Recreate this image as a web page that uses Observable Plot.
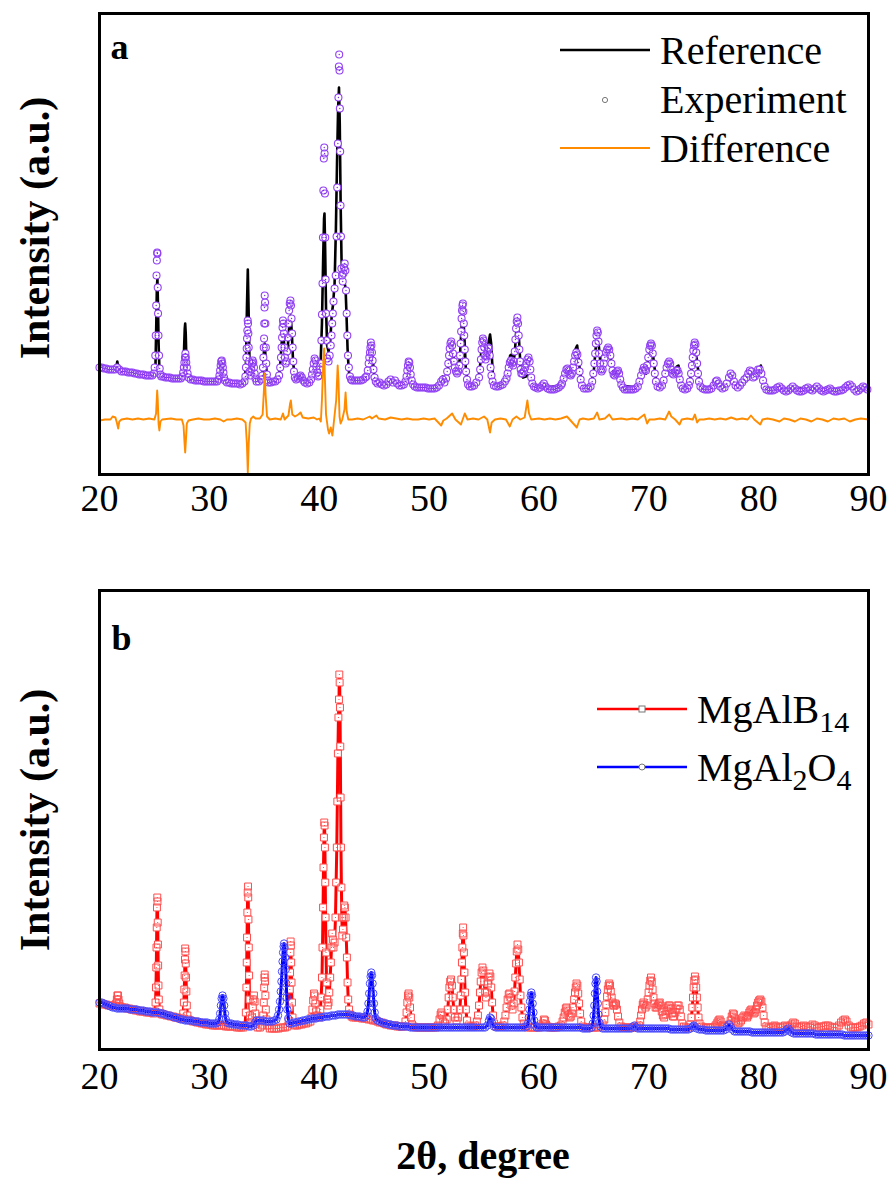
<!DOCTYPE html>
<html><head><meta charset="utf-8">
<script src="https://cdn.jsdelivr.net/npm/d3@7"></script>
<script src="https://cdn.jsdelivr.net/npm/@observablehq/plot@0.6"></script>
<style>
body{margin:0;background:#fff;}
#wrap{position:relative;width:894px;height:1180px;font-family:"Liberation Serif","Times New Roman",serif;overflow:hidden;}
#wrap > svg{display:block;}
#overlay{position:absolute;left:0;top:0;pointer-events:none;}
</style></head><body><div id="wrap"></div>
<script>
// ---------- data (2θ in degrees, intensity in arbitrary units) ----------
const xTicks = [20,30,40,50,60,70,80,90];
const seriesA = ["Reference","Experiment","Difference"];
const seriesB = ["MgAlB14","MgAl2O4"];
const DIFF_OFFSET = 54; // vertical offset of the difference trace (a.u.)

// panel a: calculated (reference) profile
const referenceXY = [20.0,106, 20.5,105, 21.0,104, 21.45,104, 21.55,107, 21.62,112, 21.7,107, 21.8,103, 22.5,101, 23.5,100, 24.5,98, 25.0,97, 25.1,110, 25.17,150, 25.22,185, 25.27,195, 25.32,170, 25.38,130, 25.45,105, 25.55,97, 26.5,95, 27.5,95, 27.62,100, 27.7,125, 27.76,145, 27.8,150, 27.85,140, 27.9,118, 27.98,100, 28.1,95, 29.0,93, 30.0,92, 30.85,93, 30.98,103, 31.1,112, 31.22,107, 31.35,95, 31.5,91, 32.5,90, 33.2,91, 33.33,110, 33.42,165, 33.5,204, 33.57,165, 33.65,115, 33.75,99, 33.85,106, 33.95,112, 34.05,108, 34.2,94, 34.7,91, 34.88,104, 34.97,122, 35.04,130, 35.12,115, 35.25,95, 35.5,91, 36.2,91, 36.42,104, 36.58,130, 36.7,143, 36.8,130, 36.92,110, 37.0,108, 37.15,128, 37.3,152, 37.4,158, 37.5,142, 37.62,112, 37.78,95, 38.1,93, 38.3,95, 38.6,91, 39.2,91, 39.4,101, 39.58,113, 39.75,104, 39.95,97, 40.12,108, 40.25,150, 40.36,215, 40.44,255, 40.48,260, 40.54,225, 40.62,165, 40.72,128, 40.85,122, 41.0,132, 41.15,160, 41.25,168, 41.4,190, 41.52,245, 41.62,310, 41.72,365, 41.8,386, 41.87,350, 41.95,270, 42.03,215, 42.12,195, 42.22,192, 42.32,190, 42.4,185, 42.48,160, 42.58,125, 42.68,104, 42.8,95, 43.0,93, 44.0,93, 44.3,98, 44.5,115, 44.68,130, 44.85,117, 45.0,99, 45.2,91, 46.0,89, 46.5,92, 47.0,90, 47.6,88, 47.9,93, 48.14,111, 48.4,94, 48.8,87, 50.0,85, 50.9,87, 51.1,91, 51.22,97, 51.35,91, 51.55,94, 51.75,108, 51.95,124, 52.05,127, 52.2,118, 52.45,102, 52.6,100, 52.8,115, 52.95,145, 53.08,162, 53.2,140, 53.35,104, 53.55,89, 54.3,89, 54.6,102, 54.78,126, 54.9,132, 55.05,122, 55.2,116, 55.4,130, 55.55,139, 55.65,130, 55.8,100, 56.0,88, 56.9,90, 57.15,99, 57.38,118, 57.5,119, 57.65,110, 57.8,120, 57.95,145, 58.06,154, 58.18,135, 58.35,102, 58.55,96, 58.8,97, 59.0,98, 59.2,96, 59.45,87, 60.3,86, 60.45,89, 60.6,86, 62.1,88, 62.4,98, 62.6,101, 62.85,99, 63.1,104, 63.35,125, 63.48,128, 63.65,110, 63.9,88, 64.7,86, 65.0,103, 65.2,130, 65.32,138, 65.45,128, 65.65,104, 65.85,106, 66.15,118, 66.35,121, 66.55,114, 66.8,99, 67.2,101, 67.5,88, 68.9,86, 69.3,96, 69.55,102, 69.75,100, 70.0,118, 70.2,127, 70.4,117, 70.7,90, 71.1,87, 71.5,97, 71.8,104, 72.0,103, 72.25,100, 72.55,107, 72.7,108, 72.9,92, 73.2,85, 73.7,88, 73.95,110, 74.17,127, 74.4,112, 74.65,88, 75.5,84, 76.0,88, 76.2,92, 76.45,87, 77.0,88, 77.45,100, 77.85,89, 78.3,88, 78.75,95, 79.1,101, 79.3,100, 79.55,96, 79.9,100, 80.2,108, 80.45,92, 80.8,84, 81.9,87, 82.5,83, 83.1,86, 84.5,85, 85.3,86, 86.5,84, 87.5,83, 88.3,88, 89.0,83, 89.5,86, 90.0,84];

// panel a: measured (experiment) points
const experimentXY = [20.0,106, 20.2,106, 20.4,105, 20.6,105, 20.8,104, 21.0,104, 21.2,104, 21.4,104, 21.6,106, 21.8,104, 22.0,102, 22.2,102, 22.4,102, 22.6,101, 22.8,101, 23.0,101, 23.2,100, 23.4,100, 23.6,99, 23.8,99, 24.0,99, 24.2,98, 24.4,98, 24.6,98, 24.8,98,
24.95,100, 25.02,106, 25.08,118, 25.12,138, 25.16,168, 25.19,198, 25.22,213, 25.25,221, 25.27,220, 25.3,186, 25.33,160, 25.37,138, 25.42,118, 25.48,105, 25.55,99, 25.62,97,
25.8,97, 26.0,96, 26.2,96, 26.4,96, 26.6,95, 26.8,95, 27.0,95, 27.2,95, 27.4,95,
27.55,97, 27.62,101, 27.68,106, 27.73,111, 27.78,116, 27.82,120, 27.86,116, 27.9,111, 27.95,106, 28.02,100, 28.1,96,
28.3,94, 28.5,94, 28.7,93, 28.9,93, 29.1,93, 29.3,93, 29.5,92, 29.7,92, 29.9,92, 30.1,92, 30.3,92, 30.5,92, 30.7,92,
30.85,94, 30.92,98, 30.98,103, 31.03,108, 31.08,112, 31.13,113, 31.18,110, 31.23,106, 31.28,101, 31.34,96, 31.42,93,
31.6,91, 31.8,91, 32.0,90, 32.2,90, 32.4,90, 32.6,90, 32.8,89, 33.0,90, 33.2,92,
33.28,97, 33.33,106, 33.37,116, 33.4,125, 33.43,135, 33.46,143, 33.49,153, 33.52,150, 33.55,140, 33.58,126, 33.62,112, 33.67,102,
33.75,98, 33.82,104, 33.88,110, 33.94,113, 34.0,111, 34.06,106, 34.12,100, 34.2,95, 34.3,92, 34.5,92, 34.7,94,
34.82,98, 34.88,106, 34.92,116, 34.95,126, 34.98,135, 35.0,150, 35.02,166, 35.04,178, 35.07,171, 35.1,150, 35.14,126, 35.18,110, 35.24,99, 35.32,93,
35.4,91, 35.6,91, 35.8,92, 36.0,92, 36.2,94,
36.35,98, 36.45,106, 36.52,116, 36.58,126, 36.62,136, 36.66,146, 36.7,153, 36.74,150, 36.78,140, 36.83,126, 36.88,116, 36.95,110, 37.02,112, 37.08,122, 37.14,136, 37.2,150, 37.26,163, 37.32,170, 37.38,173, 37.43,168, 37.48,155, 37.53,140, 37.58,126, 37.64,112, 37.7,102, 37.78,96,
37.9,94, 38.05,95, 38.2,97, 38.3,98, 38.42,96, 38.55,93, 38.7,91, 38.9,90, 39.1,91,
39.25,94, 39.35,99, 39.42,104, 39.5,110, 39.58,115, 39.66,113, 39.74,107, 39.82,101, 39.9,97, 40.0,98,
40.08,104, 40.15,110, 40.2,133, 40.25,159, 40.3,190, 40.34,236, 40.38,283, 40.42,315, 40.46,326, 40.49,320, 40.52,280, 40.55,236, 40.58,194, 40.62,160, 40.67,133, 40.72,115,
40.85,112, 40.95,118, 41.05,128, 41.12,138, 41.18,150, 41.24,160, 41.3,172,
41.4,185, 41.5,198, 41.58,237, 41.64,286, 41.7,330, 41.75,376, 41.79,407, 41.82,419, 41.85,403, 41.88,365, 41.91,322, 41.94,268, 41.98,237, 42.02,205, 42.08,198,
42.14,192, 42.2,200, 42.26,206, 42.32,210, 42.38,203, 42.44,183, 42.5,160, 42.56,138, 42.62,118, 42.7,106, 42.8,97, 42.9,94,
43.0,93, 43.2,93, 43.4,93, 43.6,93, 43.8,93, 44.0,94, 44.2,96,
44.3,97, 44.42,103, 44.5,110, 44.56,116, 44.62,121, 44.66,126, 44.7,131, 44.75,128, 44.8,121, 44.86,113, 44.94,104, 45.04,96, 45.15,92,
45.3,90, 45.5,91, 45.7,89, 45.9,88, 46.1,89, 46.3,92, 46.5,94, 46.7,91, 46.9,93, 47.1,90, 47.3,88, 47.5,88, 47.7,89,
47.85,92, 47.95,97, 48.02,103, 48.08,108, 48.14,112, 48.2,111, 48.26,106, 48.33,99, 48.42,93, 48.55,89,
48.7,87, 48.9,86, 49.1,86, 49.3,86, 49.5,86, 49.7,86, 49.9,85, 50.1,85, 50.3,85, 50.5,85, 50.7,86, 50.9,88, 51.1,92, 51.25,94, 51.4,91,
51.55,95, 51.65,102, 51.75,110, 51.82,118, 51.88,125, 51.95,130, 52.02,132, 52.1,128, 52.18,120, 52.26,112, 52.35,106, 52.45,102, 52.55,100, 52.65,102, 52.75,108, 52.82,118, 52.87,130, 52.92,142, 52.96,155, 53.0,163, 53.04,168, 53.08,170, 53.12,162, 53.16,150, 53.2,138, 53.25,124, 53.3,112, 53.37,102, 53.45,94, 53.55,89,
53.7,87, 53.9,87, 54.1,88, 54.3,91,
54.55,96, 54.65,104, 54.72,114, 54.78,124, 54.84,131, 54.9,135, 54.96,133, 55.02,126, 55.08,118, 55.14,114, 55.22,117, 55.3,122, 55.38,126, 55.45,125, 55.52,118, 55.6,106, 55.68,98, 55.78,92, 55.9,88,
56.1,87, 56.3,87, 56.5,88, 56.7,89, 56.9,92,
57.05,95, 57.15,100, 57.25,106, 57.35,111, 57.45,113, 57.55,110, 57.65,108, 57.72,112, 57.8,122, 57.86,134, 57.92,145, 57.98,152, 58.04,156, 58.1,150, 58.16,138, 58.22,124, 58.28,112, 58.34,104, 58.4,100,
58.5,100, 58.62,102, 58.75,106, 58.85,110, 58.95,114, 59.05,116, 59.15,112, 59.22,104, 59.3,96, 59.4,90, 59.55,87,
59.7,86, 59.9,85, 60.1,86, 60.3,88, 60.45,90, 60.6,87, 60.8,85, 61.0,84, 61.2,84, 61.4,84, 61.6,85, 61.8,86, 62.0,88,
62.1,90, 62.25,95, 62.38,100, 62.5,104, 62.6,105, 62.7,103, 62.8,99, 62.9,98, 63.0,100, 63.1,106, 63.2,112, 63.3,118, 63.4,121, 63.5,119, 63.6,111, 63.7,102, 63.8,94, 63.92,88,
64.1,85, 64.3,85, 64.5,85, 64.7,87,
64.85,92, 64.95,100, 65.05,110, 65.12,120, 65.18,130, 65.24,138, 65.3,143, 65.36,141, 65.42,132, 65.48,120, 65.55,110, 65.62,104, 65.7,102, 65.8,104, 65.9,110, 66.0,116, 66.1,121, 66.2,124, 66.3,126, 66.4,124, 66.5,118, 66.6,110, 66.7,103, 66.8,99, 66.9,98, 67.0,100, 67.1,102, 67.2,103, 67.3,100, 67.4,94, 67.5,89, 67.65,86,
67.8,84, 68.0,84, 68.2,84, 68.4,84, 68.6,84, 68.8,85, 69.0,87, 69.15,92,
69.3,98, 69.45,103, 69.55,106, 69.65,104, 69.75,103, 69.85,108, 69.95,116, 70.05,124, 70.12,128, 70.2,130, 70.28,128, 70.36,120, 70.45,110, 70.55,100, 70.65,92, 70.8,87,
71.0,86, 71.2,88, 71.35,93, 71.5,100, 71.62,106, 71.74,110, 71.85,112, 71.95,110, 72.05,104, 72.15,100, 72.25,99, 72.38,101, 72.5,103, 72.62,103, 72.72,100, 72.82,94, 72.95,88, 73.1,85,
73.3,84, 73.5,85, 73.65,88,
73.75,92, 73.85,100, 73.93,108, 74.0,116, 74.06,123, 74.12,128, 74.18,131, 74.25,129, 74.32,121, 74.4,110, 74.48,100, 74.57,92, 74.7,87,
74.9,85, 75.1,84, 75.3,84, 75.5,84, 75.7,85, 75.9,88, 76.1,92, 76.2,93, 76.35,90, 76.5,87, 76.7,85, 76.9,86, 77.1,90, 77.3,96, 77.45,100, 77.6,98, 77.75,92, 77.9,88, 78.1,86, 78.3,88, 78.5,91, 78.7,94, 78.9,96, 79.05,100, 79.2,103, 79.35,102, 79.5,96, 79.65,97, 79.8,100, 79.95,104, 80.1,104, 80.25,100, 80.4,93, 80.55,87, 80.7,84, 80.9,83, 81.1,83, 81.3,83, 81.5,84, 81.7,86, 81.9,87, 82.1,85, 82.3,83, 82.5,82, 82.7,83, 82.9,85, 83.1,87, 83.3,85, 83.5,83, 83.7,82, 83.9,82, 84.1,83, 84.3,85, 84.5,86, 84.7,84, 84.9,83, 85.1,85, 85.3,87, 85.5,85, 85.7,83, 85.9,82, 86.1,83, 86.3,84, 86.5,85, 86.7,83, 86.9,82, 87.1,82, 87.3,83, 87.5,83, 87.7,84, 87.9,86, 88.1,88, 88.3,89, 88.5,87, 88.7,84, 88.9,82, 89.1,83, 89.3,85, 89.5,87, 89.7,86, 89.9,84];

// panel a: difference (experiment - reference), around zero
const differenceXY = [20.0,-1, 20.5,0, 21.0,0, 21.2,3, 21.45,2, 21.6,-4, 21.7,-9, 21.8,-2, 22.0,0, 22.5,1, 23.0,0, 23.5,1, 24.0,0, 24.5,1, 25.0,0, 25.15,6, 25.25,29, 25.3,20, 25.38,-5, 25.45,-11, 25.55,-2, 25.7,0, 26.5,1, 27.0,0, 27.5,0, 27.65,-6, 27.75,-25, 27.8,-33, 27.87,-20, 27.95,-4, 28.1,-1, 28.5,0, 29.0,1, 29.5,0, 30.0,0, 30.5,1, 31.0,0, 31.3,-2, 31.6,0, 32.0,0, 32.5,1, 33.0,0, 33.3,-3, 33.42,-25, 33.5,-53, 33.58,-25, 33.68,-4, 33.8,1, 34.0,3, 34.2,1, 34.6,1, 34.85,5, 34.97,30, 35.04,46, 35.12,25, 35.25,3, 35.5,0, 36.0,1, 36.5,0, 36.7,6, 36.85,0, 37.2,4, 37.35,16, 37.42,19, 37.55,5, 37.8,3, 38.1,5, 38.3,7, 38.5,2, 39.0,1, 39.5,2, 39.8,0, 40.0,1, 40.15,-2, 40.25,20, 40.38,60, 40.45,71, 40.52,40, 40.62,5, 40.8,-10, 40.9,-14, 41.05,-8, 41.2,-16, 41.3,-6, 41.55,20, 41.68,54, 41.75,40, 41.85,3, 41.95,-4, 42.1,0, 42.3,10, 42.4,27, 42.5,8, 42.65,0, 43.0,0, 43.5,1, 44.0,0, 44.6,3, 44.8,1, 45.2,4, 45.4,1, 46.0,0, 46.5,2, 47.0,1, 47.5,0, 48.0,1, 48.5,0, 49.0,0, 49.5,1, 50.0,0, 50.5,1, 51.1,-6, 51.3,-1, 51.6,1, 52.1,6, 52.4,0, 52.9,-5, 53.25,6, 53.5,0, 54.0,1, 54.5,0, 55.0,3, 55.3,0, 55.55,-13, 55.7,-3, 56.0,0, 56.5,1, 57.0,0, 57.35,-7, 57.6,0, 57.95,3, 58.3,0, 58.7,2, 58.95,19, 59.1,6, 59.3,0, 60.0,1, 60.5,0, 61.0,1, 61.5,0, 62.0,1, 62.55,3, 62.8,0, 63.45,-8, 63.7,0, 64.0,1, 64.5,0, 65.0,1, 65.3,7, 65.5,0, 66.0,1, 66.4,5, 66.7,0, 67.5,1, 68.0,0, 68.5,1, 69.0,0, 69.6,5, 69.85,-4, 70.05,0, 70.5,0, 71.0,1, 71.5,0, 71.85,8, 72.05,3, 72.4,0, 72.8,-5, 73.0,0, 73.5,1, 74.0,0, 74.2,5, 74.4,-3, 74.6,0, 75.0,0, 75.5,1, 76.0,0, 76.5,1, 77.0,0, 77.5,2, 78.0,0, 78.5,1, 79.0,0, 79.3,4, 79.6,0, 80.15,-5, 80.35,0, 80.8,1, 81.3,0, 81.9,-2, 82.3,1, 82.8,0, 83.3,-2, 83.8,1, 84.3,0, 84.8,-2, 85.3,1, 85.8,0, 86.3,-2, 86.8,1, 87.3,0, 87.8,1, 88.3,-2, 88.8,0, 89.3,1, 90.0,0];

// panel b: MgAlB14 phase
const mgalb14XY = [20.0,44, 20.2,44, 20.4,43, 20.6,43, 20.8,42, 21.0,42, 21.2,42, 21.4,42, 21.52,44, 21.58,48, 21.63,52, 21.68,52, 21.73,48, 21.8,44, 21.9,41, 22.1,40, 22.3,40, 22.5,39, 22.7,39, 22.9,38, 23.1,38, 23.3,37, 23.5,37, 23.7,36, 23.9,36, 24.1,36, 24.3,35, 24.5,35, 24.7,35, 24.9,34,
25.05,36, 25.1,45, 25.14,60, 25.17,80, 25.19,100, 25.21,120, 25.23,140, 25.26,150, 25.28,146, 25.3,125, 25.32,103, 25.34,82, 25.37,62, 25.4,48, 25.45,38, 25.55,34,
25.7,33, 25.9,33, 26.1,32, 26.3,32, 26.5,31, 26.7,31, 26.9,30, 27.1,30, 27.3,29, 27.5,29,
27.62,34, 27.68,45, 27.72,58, 27.75,72, 27.78,88, 27.8,99, 27.82,96, 27.85,84, 27.88,70, 27.91,56, 27.95,42, 28.0,32, 28.1,28,
28.3,27, 28.5,26, 28.7,26, 28.9,25, 29.1,25, 29.3,24, 29.5,24, 29.7,23, 29.9,23, 30.1,23, 30.3,22, 30.5,22, 30.7,22, 30.9,22, 31.1,22, 31.3,22, 31.5,21, 31.7,21, 31.9,21, 32.1,21, 32.3,21, 32.5,20, 32.7,20, 32.9,20, 33.1,20, 33.25,22,
33.32,35, 33.37,60, 33.4,85, 33.43,110, 33.46,135, 33.49,155, 33.52,161, 33.54,150, 33.56,128, 33.59,100, 33.62,72, 33.66,48, 33.7,32, 33.76,25,
33.88,30, 33.95,40, 34.0,48, 34.06,52, 34.12,46, 34.18,34, 34.26,24, 34.4,20, 34.6,20, 34.8,22,
34.9,32, 34.95,45, 34.99,60, 35.02,70, 35.04,73, 35.07,66, 35.1,52, 35.14,38, 35.2,28, 35.3,22, 35.5,19, 35.7,19, 35.9,19, 36.1,19, 36.3,19, 36.5,20, 36.7,20, 36.9,20, 37.1,21, 37.22,26,
37.28,40, 37.32,58, 37.35,75, 37.38,95, 37.4,106, 37.42,102, 37.45,85, 37.48,65, 37.52,45, 37.57,30, 37.65,23, 37.8,22, 38.0,22, 38.2,23, 38.4,23, 38.6,24, 38.8,24, 39.0,25, 39.2,26,
39.3,30, 39.38,38, 39.45,47, 39.52,54, 39.58,52, 39.65,44, 39.72,36, 39.8,32, 39.9,31, 40.0,30,
40.1,38, 40.18,50, 40.25,70, 40.3,100, 40.35,140, 40.39,180, 40.43,210, 40.46,225, 40.49,222, 40.52,200, 40.55,165, 40.58,130, 40.62,95, 40.67,65, 40.72,48, 40.78,42,
40.85,45, 40.92,55, 41.0,70, 41.06,85, 41.12,100, 41.18,114, 41.24,108, 41.3,100,
41.4,105, 41.48,130, 41.54,165, 41.6,200, 41.65,246, 41.7,294, 41.75,330, 41.8,348, 41.83,373, 41.86,365, 41.89,340, 41.92,301, 41.95,250, 41.98,200, 42.02,160, 42.06,130, 42.1,112, 42.16,118, 42.22,130, 42.28,142, 42.34,140, 42.4,130, 42.46,110, 42.52,90, 42.58,65, 42.64,48, 42.72,38, 42.82,33, 42.95,31,
43.1,30, 43.3,30, 43.5,30, 43.7,30, 43.9,29, 44.1,29, 44.3,29, 44.5,28, 44.7,28, 44.9,27, 45.1,27, 45.3,26, 45.5,25, 45.7,25, 45.9,24, 46.1,23, 46.3,23, 46.5,22, 46.7,22, 46.9,22, 47.1,21, 47.3,21, 47.5,21, 47.7,21, 47.85,26,
47.95,35, 48.02,45, 48.08,52, 48.14,54, 48.2,50, 48.27,40, 48.35,30, 48.45,23, 48.6,21, 48.8,20, 49.0,20, 49.2,20, 49.4,20, 49.6,20, 49.8,20, 50.0,20, 50.2,20, 50.4,20, 50.6,20, 50.8,22,
50.95,28, 51.05,33, 51.12,35, 51.2,32, 51.3,26, 51.45,24,
51.6,28, 51.7,38, 51.78,50, 51.85,60, 51.92,66, 52.0,68, 52.08,62, 52.16,50, 52.25,38, 52.35,30, 52.5,27, 52.65,30,
52.8,38, 52.88,52, 52.94,68, 52.99,85, 53.03,100, 53.07,114, 53.1,120, 53.13,112, 53.17,95, 53.22,75, 53.28,55, 53.35,38, 53.45,27, 53.6,22, 53.8,21, 54.0,21, 54.2,22, 54.35,26,
54.45,32, 54.55,42, 54.63,55, 54.7,66, 54.78,75, 54.86,80, 54.94,77, 55.02,66, 55.1,55, 55.18,50, 55.26,55, 55.34,64, 55.42,70, 55.5,74, 55.58,71, 55.66,60, 55.74,45, 55.82,32, 55.92,24, 56.1,21, 56.3,21, 56.5,21, 56.7,22, 56.85,26,
56.95,32, 57.05,40, 57.15,48, 57.25,53, 57.32,54, 57.4,50, 57.5,42, 57.6,38, 57.7,44, 57.78,56, 57.85,70, 57.92,84, 57.98,96, 58.05,103, 58.12,98, 58.18,85, 58.25,68, 58.32,52, 58.4,40, 58.5,30, 58.62,24, 58.8,21, 59.0,20, 59.2,20, 59.4,20, 59.6,20, 59.8,20, 60.0,20, 60.2,21, 60.35,24, 60.45,28, 60.55,27, 60.65,23, 60.8,21, 61.0,20, 61.2,20, 61.4,20, 61.6,20, 61.8,21, 62.0,22, 62.15,26,
62.25,30, 62.35,35, 62.45,39, 62.52,40, 62.6,37, 62.7,32, 62.8,30, 62.9,31, 63.0,34, 63.1,40, 63.2,48, 63.28,55, 63.35,60, 63.42,64, 63.5,62, 63.58,54, 63.66,44, 63.75,34, 63.85,26, 64.0,21, 64.2,20, 64.4,20, 64.6,20, 64.8,20, 65.0,20, 65.2,20, 65.4,20, 65.6,21, 65.8,23, 65.95,28,
66.05,35, 66.13,43, 66.2,51, 66.27,58, 66.34,62, 66.4,64, 66.47,62, 66.54,56, 66.62,50, 66.7,45, 66.78,42, 66.86,42, 66.95,44, 67.02,43, 67.1,38, 67.2,31, 67.32,25, 67.5,21, 67.7,20, 67.9,20, 68.1,20, 68.3,20, 68.5,20, 68.7,20, 68.9,21, 69.1,22, 69.22,26,
69.3,32, 69.38,38, 69.45,43, 69.52,45, 69.6,43, 69.7,40, 69.8,42, 69.9,48, 69.98,55, 70.06,62, 70.13,67, 70.2,70, 70.27,66, 70.35,58, 70.43,50, 70.52,44, 70.62,40, 70.72,40, 70.82,42, 70.92,44, 71.0,45, 71.08,42, 71.18,36, 71.28,32, 71.4,30, 71.52,33, 71.62,37, 71.72,40, 71.82,42, 71.9,42, 72.0,39, 72.1,34, 72.2,31, 72.32,31, 72.42,35, 72.52,39, 72.62,42, 72.72,42, 72.82,38, 72.92,31, 73.05,24, 73.2,21, 73.4,20, 73.6,20, 73.78,23,
73.88,30, 73.96,40, 74.02,50, 74.08,60, 74.14,67, 74.2,71, 74.26,68, 74.32,60, 74.38,50, 74.45,40, 74.53,30, 74.62,24, 74.8,21, 75.0,20, 75.2,20, 75.4,20, 75.6,20, 75.8,20, 76.0,21, 76.15,23,
76.25,25, 76.35,27, 76.45,28, 76.55,26, 76.7,22, 76.9,21, 77.1,21, 77.3,23, 77.45,27, 77.55,31, 77.65,34, 77.75,33, 77.85,29, 77.95,26, 78.1,24, 78.25,25, 78.4,27, 78.55,30, 78.7,32, 78.82,31, 78.95,30, 79.05,32, 79.15,35, 79.25,37, 79.35,38, 79.45,36, 79.55,34, 79.65,35, 79.75,38, 79.85,42, 79.95,45, 80.05,47, 80.15,48, 80.25,46, 80.35,40, 80.45,32, 80.55,25, 80.7,21, 80.9,20, 81.1,20, 81.3,21, 81.45,22, 81.6,21, 81.8,20, 82.0,20, 82.2,21, 82.4,22, 82.6,21, 82.8,21, 83.0,23, 83.15,25, 83.3,24, 83.5,21, 83.7,20, 83.9,21, 84.1,22, 84.3,21, 84.5,20, 84.7,21, 84.9,23, 85.1,22, 85.3,20, 85.5,20, 85.7,21, 85.9,21, 86.1,22, 86.3,22, 86.5,21, 86.7,20, 86.9,20, 87.1,20, 87.3,22, 87.5,25, 87.7,27, 87.85,28, 88.0,26, 88.2,22, 88.4,20, 88.6,20, 88.8,20, 89.0,20, 89.2,21, 89.4,22, 89.6,24, 89.8,25, 90.0,23];

// panel b: MgAl2O4 phase
const mgal2o4XY = [20.0,45, 20.2,45, 20.4,44, 20.6,43, 20.8,42, 21.0,41, 21.2,40, 21.4,40, 21.6,39, 21.8,39, 22.0,39, 22.2,39, 22.4,39, 22.6,39, 22.8,38, 23.0,38, 23.2,38, 23.4,38, 23.6,37, 23.8,37, 24.0,37, 24.2,36, 24.4,36, 24.6,36, 24.8,35, 25.0,35, 25.2,35, 25.4,35, 25.6,34, 25.8,34, 26.0,33, 26.2,32, 26.4,32, 26.6,31, 26.8,30, 27.0,30, 27.2,29, 27.4,28, 27.6,28, 27.8,27, 28.0,27, 28.2,27, 28.4,27, 28.6,26, 28.8,26, 29.0,26, 29.2,25, 29.4,25, 29.6,25, 29.8,25, 30.0,24, 30.2,24, 30.4,24, 30.6,24, 30.8,25,
30.9,28, 30.98,34, 31.05,42, 31.12,49, 31.2,52, 31.28,49, 31.35,42, 31.42,34, 31.5,28, 31.6,25, 31.8,24, 32.0,24, 32.2,23, 32.4,23, 32.6,23, 32.8,22, 33.0,22, 33.2,22, 33.4,22, 33.6,21, 33.8,21, 34.0,22, 34.15,25, 34.3,27, 34.5,27, 34.7,27, 34.9,27, 35.1,26, 35.3,26, 35.5,26, 35.7,26, 35.9,27, 36.1,28, 36.25,32,
36.35,38, 36.43,46, 36.5,56, 36.56,66, 36.61,76, 36.66,86, 36.71,95, 36.76,101, 36.8,104, 36.85,100, 36.9,90, 36.95,78, 37.0,64, 37.05,50, 37.1,38, 37.18,29, 37.3,24, 37.5,24, 37.7,25, 37.9,25, 38.1,26, 38.3,26, 38.5,27, 38.7,27, 38.9,28, 39.1,28, 39.3,29, 39.5,29, 39.7,29, 39.9,30, 40.1,30, 40.3,30, 40.5,31, 40.7,31, 40.9,31, 41.1,32, 41.3,32, 41.5,32, 41.7,33, 41.9,33, 42.1,33, 42.3,33, 42.5,33, 42.7,33, 42.9,32, 43.1,32, 43.3,31, 43.5,31, 43.7,31, 43.9,30, 44.1,30, 44.3,32,
44.4,36, 44.48,44, 44.55,54, 44.62,64, 44.68,71, 44.74,75, 44.8,72, 44.86,64, 44.92,54, 44.98,44, 45.05,35, 45.15,29, 45.3,27, 45.5,26, 45.7,25, 45.9,24, 46.1,24, 46.3,23, 46.5,23, 46.7,22, 46.9,22, 47.1,22, 47.3,21, 47.5,21, 47.7,21, 47.9,21, 48.1,21, 48.3,20, 48.5,20, 48.7,20, 48.9,20, 49.1,20, 49.3,20, 49.5,20, 49.7,20, 49.9,20, 50.1,20, 50.3,20, 50.5,20, 50.7,20, 50.9,20, 51.1,20, 51.3,20, 51.5,20, 51.7,20, 51.9,20, 52.1,20, 52.3,20, 52.5,20, 52.7,20, 52.9,20, 53.1,20, 53.3,20, 53.5,20, 53.7,20, 53.9,20, 54.1,20, 54.3,20, 54.5,20, 54.7,20, 54.9,20, 55.1,20, 55.3,22, 55.45,27, 55.55,30, 55.65,29, 55.75,24, 55.9,21, 56.1,20, 56.3,20, 56.5,20, 56.7,20, 56.9,20, 57.1,20, 57.3,20, 57.5,20, 57.7,20, 57.9,20, 58.1,20, 58.3,20, 58.5,20, 58.7,20, 58.9,21, 59.0,24,
59.07,30, 59.13,38, 59.19,46, 59.25,52, 59.31,55, 59.37,52, 59.43,44, 59.5,35, 59.57,27, 59.65,22, 59.8,20, 60.0,20, 60.2,20, 60.4,20, 60.6,20, 60.8,20, 61.0,20, 61.2,20, 61.4,20, 61.6,20, 61.8,20, 62.0,20, 62.2,20, 62.4,20, 62.6,20, 62.8,20, 63.0,20, 63.2,20, 63.4,20, 63.6,20, 63.8,20, 64.0,19, 64.2,19, 64.4,19, 64.6,19, 64.8,20, 64.9,24,
64.98,32, 65.04,42, 65.1,54, 65.15,64, 65.2,70, 65.25,66, 65.3,56, 65.36,44, 65.42,33, 65.5,25, 65.6,21, 65.8,19, 66.0,19, 66.2,19, 66.4,19, 66.6,19, 66.8,19, 67.0,19, 67.2,19, 67.4,19, 67.6,19, 67.8,19, 68.0,19, 68.2,19, 68.4,19, 68.55,21, 68.7,22, 68.85,20, 69.0,19, 69.2,19, 69.4,19, 69.6,19, 69.8,19, 70.0,19, 70.2,19, 70.4,19, 70.6,19, 70.8,19, 71.0,19, 71.2,19, 71.4,19, 71.6,19, 71.8,19, 72.0,18, 72.2,18, 72.4,18, 72.6,18, 72.8,18, 73.0,18, 73.2,18, 73.4,18, 73.6,18, 73.8,19, 74.0,21, 74.1,22, 74.2,21, 74.35,19, 74.6,18, 74.8,18, 75.0,18, 75.2,17, 75.4,17, 75.6,17, 75.8,17, 76.0,17, 76.2,17, 76.4,17, 76.6,17, 76.8,17, 77.0,18, 77.15,21, 77.3,23, 77.45,21, 77.6,18, 77.8,16, 78.0,16, 78.2,16, 78.4,16, 78.6,16, 78.8,16, 79.0,16, 79.2,16, 79.4,15, 79.6,15, 79.8,15, 80.0,15, 80.2,15, 80.4,15, 80.6,15, 80.8,15, 81.0,15, 81.2,15, 81.4,15, 81.6,15, 81.8,15, 82.0,15, 82.2,15, 82.4,16, 82.55,18, 82.7,19, 82.85,17, 83.0,15, 83.2,14, 83.4,14, 83.6,14, 83.8,14, 84.0,14, 84.2,14, 84.4,14, 84.6,14, 84.8,14, 85.0,14, 85.2,13, 85.4,13, 85.6,13, 85.8,13, 86.0,13, 86.2,13, 86.4,13, 86.6,13, 86.8,13, 87.0,13, 87.2,13, 87.4,13, 87.6,13, 87.8,12, 88.0,12, 88.2,12, 88.4,12, 88.6,12, 88.8,12, 89.0,12, 89.2,12, 89.4,12, 89.6,12, 89.8,12, 90.0,12];

// ---------- build ----------
function pairs(a){const out=[];for(let i=0;i<a.length;i+=2)out.push({x:a[i],y:a[i+1]});return out;}
const ref = pairs(referenceXY);
const expt = pairs(experimentXY);
const diff = pairs(differenceXY).map(d => ({x: d.x, y: d.y + DIFF_OFFSET}));
const boride = pairs(mgalb14XY);
const spinel = pairs(mgal2o4XY);
const serif = "'Liberation Serif','Times New Roman',serif";
const wrap = document.getElementById("wrap");

const plotA = Plot.plot({
  width: 894, height: 560,
  marginTop: 13, marginBottom: 86, marginLeft: 99, marginRight: 26,
  style: {fontFamily: serif, fontSize: "38px", color: "#000", background: "white", overflow: "visible"},
  x: {domain: [20, 90], ticks: xTicks, tickSize: 0, tickPadding: 10, label: null, tickFormat: d => String(d)},
  y: {domain: [-1, 460], axis: null},
  marks: [
    Plot.line(ref, {x: "x", y: "y", stroke: "#000", strokeWidth: 2.6}),
    // open circles: white interiors first, then all outlines on top
    Plot.dot(expt, {x: "x", y: "y", r: 3.5, fill: "white", stroke: "none"}),
    Plot.dot(expt, {x: "x", y: "y", r: 3.5, stroke: "#9140f5", fill: "none", strokeWidth: 1.1}),
    Plot.dot(expt, {x: "x", y: "y", r: 0.7, fill: "#7b32d6"}),
    Plot.line(diff, {x: "x", y: "y", stroke: "#ff8c00", strokeWidth: 1.9}),
    Plot.frame({stroke: "#000", strokeWidth: 3}),
    Plot.text(["a"], {text: d => d, frameAnchor: "top-left", dx: 11, dy: 45.5, lineAnchor: "bottom", textAnchor: "start", fontWeight: "bold", fontSize: 36}),
    Plot.text(["Intensity (a.u.)"], {text: d => d, frameAnchor: "left", dx: -64, dy: -16, rotate: -90, textAnchor: "middle", lineAnchor: "middle", fontWeight: "bold", fontSize: 42})
  ]
});
wrap.appendChild(plotA);

const plotB = Plot.plot({
  width: 894, height: 560,
  marginTop: 30, marginBottom: 71, marginLeft: 99, marginRight: 26,
  style: {fontFamily: serif, fontSize: "38px", color: "#000", background: "white", overflow: "visible"},
  x: {domain: [20, 90], ticks: xTicks, tickSize: 0, tickPadding: 13, label: null, tickFormat: d => String(d)},
  y: {domain: [-2, 457], axis: null},
  marks: [
    Plot.line(boride, {x: "x", y: "y", stroke: "#ff0000", strokeWidth: 3}),
    Plot.dot(boride, {x: "x", y: "y", symbol: "square", r: 3.9, fill: "white", stroke: "none"}),
    Plot.dot(boride, {x: "x", y: "y", symbol: "square", r: 3.9, stroke: "#ff4d4d", fill: "none", strokeWidth: 1}),
    Plot.dot(boride, {x: "x", y: "y", r: 0.6, fill: "#ff4040"}),
    Plot.line(spinel, {x: "x", y: "y", stroke: "#0000ff", strokeWidth: 3}),
    Plot.dot(spinel, {x: "x", y: "y", r: 3.7, stroke: "#4a4aff", fill: "none", strokeWidth: 1}),
    Plot.dot(spinel, {x: "x", y: "y", r: 0.6, fill: "#3030ff"}),
    Plot.frame({stroke: "#000", strokeWidth: 3}),
    Plot.text(["b"], {text: d => d, frameAnchor: "top-left", dx: 12, dy: 59, lineAnchor: "bottom", textAnchor: "start", fontWeight: "bold", fontSize: 36}),
    Plot.text(["Intensity (a.u.)"], {text: d => d, frameAnchor: "left", dx: -64, rotate: -90, textAnchor: "middle", lineAnchor: "middle", fontWeight: "bold", fontSize: 42})
  ]
});
wrap.appendChild(plotB);

// legends and x-axis title (overlay)
const overlay = `
<svg id="overlay" width="894" height="1180" font-family="${serif.replace(/'/g, '&quot;')}">
  <g font-size="40">
    <line x1="560" y1="50" x2="650" y2="50" stroke="#000" stroke-width="2.5"/>
    <text x="660" y="64">${seriesA[0]}</text>
    <circle cx="605" cy="100" r="2.6" fill="white" stroke="#777" stroke-width="1"/>
    <text x="660" y="113">${seriesA[1]}</text>
    <line x1="560" y1="148" x2="650" y2="148" stroke="#ff8c00" stroke-width="2"/>
    <text x="660" y="162">${seriesA[2]}</text>
  </g>
  <g font-size="40">
    <line x1="597" y1="709" x2="687" y2="709" stroke="#ff0000" stroke-width="2.5"/>
    <rect x="639" y="706" width="6" height="6" fill="white" stroke="#777" stroke-width="1"/>
    <text x="697" y="723">MgAlB<tspan dy="9" font-size="30">14</tspan></text>
    <line x1="597" y1="767" x2="687" y2="767" stroke="#0000ff" stroke-width="2.5"/>
    <circle cx="642" cy="767" r="3" fill="white" stroke="#777" stroke-width="1"/>
    <text x="697" y="781">MgAl<tspan dy="9" font-size="30">2</tspan><tspan dy="-9">O</tspan><tspan dy="9" font-size="30">4</tspan></text>
  </g>
  <text x="483" y="1169" text-anchor="middle" font-size="40" font-weight="bold">2θ, degree</text>
</svg>`;
wrap.insertAdjacentHTML("beforeend", overlay);
</script>
</body></html>
